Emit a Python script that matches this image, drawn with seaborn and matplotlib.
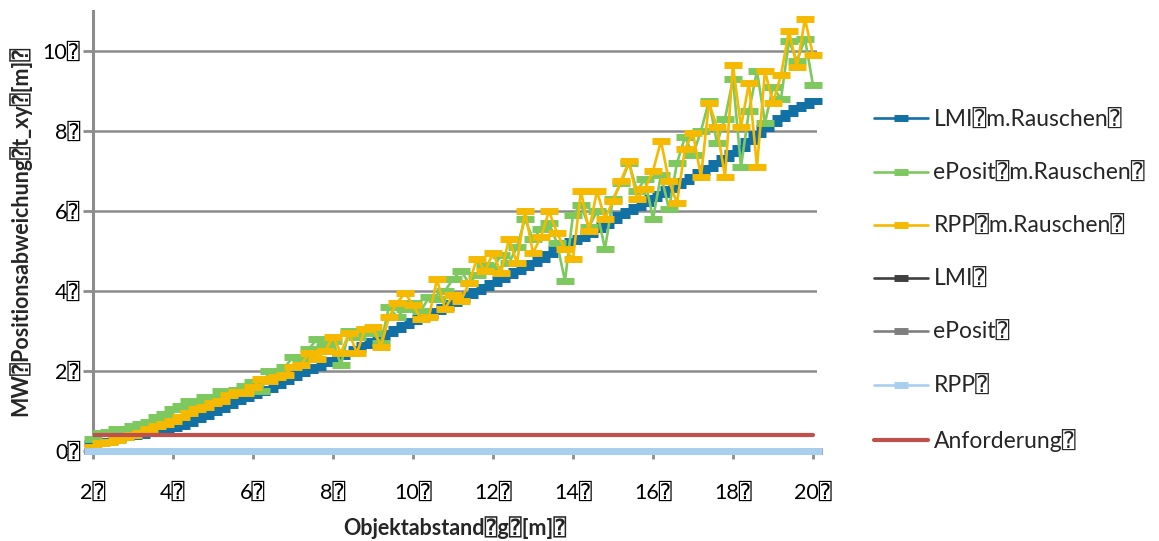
import pandas as pd
import seaborn as sns
import matplotlib.pyplot as plt

# Object distance g [m]
distance = [2.0, 2.2, 2.4, 2.6, 2.8, 3.0, 3.2, 3.4, 3.6, 3.8,
            4.0, 4.2, 4.4, 4.6, 4.8, 5.0, 5.2, 5.4, 5.6, 5.8,
            6.0, 6.2, 6.4, 6.6, 6.8, 7.0, 7.2, 7.4, 7.6, 7.8,
            8.0, 8.2, 8.4, 8.6, 8.8, 9.0, 9.2, 9.4, 9.6, 9.8,
            10.0, 10.2, 10.4, 10.6, 10.8, 11.0, 11.2, 11.4, 11.6, 11.8,
            12.0, 12.2, 12.4, 12.6, 12.8, 13.0, 13.2, 13.4, 13.6, 13.8,
            14.0, 14.2, 14.4, 14.6, 14.8, 15.0, 15.2, 15.4, 15.6, 15.8,
            16.0, 16.2, 16.4, 16.6, 16.8, 17.0, 17.2, 17.4, 17.6, 17.8,
            18.0, 18.2, 18.4, 18.6, 18.8, 19.0, 19.2, 19.4, 19.6, 19.8,
            20.0]

# mean position deviation t_xy [m], with noise
lmi_noise = [0.20, 0.22, 0.26, 0.30, 0.34, 0.38, 0.41, 0.45, 0.49, 0.53,
             0.58, 0.63, 0.70, 0.80, 0.88, 0.97, 1.06, 1.15, 1.25, 1.33,
             1.40, 1.48, 1.56, 1.65, 1.75, 1.85, 1.95, 2.03, 2.10, 2.20,
             2.28, 2.37, 2.46, 2.55, 2.65, 2.75, 2.85, 2.95, 3.05, 3.15,
             3.24, 3.32, 3.41, 3.50, 3.60, 3.70, 3.80, 3.90, 4.00, 4.10,
             4.20, 4.30, 4.40, 4.50, 4.60, 4.70, 4.80, 4.92, 5.05, 5.18,
             5.25, 5.33, 5.42, 5.55, 5.66, 5.78, 5.90, 6.00, 6.10, 6.20,
             6.32, 6.43, 6.55, 6.65, 6.75, 6.86, 6.97, 7.08, 7.20, 7.32,
             7.44, 7.58, 7.75, 7.92, 8.08, 8.20, 8.32, 8.45, 8.57, 8.66,
             8.75]
eposit_noise = [0.30, 0.45, 0.48, 0.54, 0.56, 0.62, 0.68, 0.72, 0.85, 0.92,
                1.05, 1.12, 1.25, 1.22, 1.35, 1.33, 1.50, 1.48, 1.52, 1.62,
                1.72, 1.50, 2.00, 1.98, 2.10, 2.35, 2.30, 2.55, 2.80, 2.62,
                2.75, 2.15, 3.00, 2.85, 3.05, 2.95, 2.70, 3.60, 3.35, 3.55,
                3.70, 3.50, 3.85, 3.80, 4.00, 4.30, 4.50, 4.20, 4.40, 4.65,
                4.55, 4.90, 4.70, 5.10, 5.80, 5.30, 5.55, 5.70, 5.20, 4.25,
                5.90, 6.15, 5.60, 6.00, 5.05, 6.30, 6.70, 7.20, 6.50, 6.80,
                5.80, 6.90, 6.05, 7.20, 7.85, 7.40, 8.00, 8.75, 7.70, 8.30,
                9.30, 7.10, 8.50, 9.50, 8.20, 9.10, 8.80, 10.25, 9.75, 10.30,
                9.15]
rpp_noise = [0.10, 0.20, 0.22, 0.28, 0.35, 0.40, 0.45, 0.55, 0.62, 0.68,
             0.75, 0.85, 0.95, 1.05, 1.10, 1.20, 1.25, 1.40, 1.48, 1.45,
             1.60, 1.80, 1.75, 1.85, 1.90, 2.10, 2.15, 2.45, 2.30, 2.50,
             2.85, 2.45, 2.95, 2.45, 3.05, 3.10, 2.60, 3.35, 3.70, 3.95,
             3.65, 3.30, 3.35, 4.30, 3.55, 3.90, 3.75, 4.20, 4.80, 4.50,
             4.95, 4.45, 5.30, 4.70, 6.00, 4.95, 5.35, 6.00, 5.45, 5.05,
             4.80, 6.50, 5.50, 6.50, 5.80, 6.25, 6.75, 7.25, 6.30, 6.55,
             7.00, 7.75, 6.75, 6.20, 7.55, 7.95, 6.85, 8.70, 8.10, 6.85,
             9.65, 8.10, 9.20, 7.10, 9.50, 8.70, 9.40, 10.50, 9.60, 10.80,
             9.90]
# without noise all methods sit at zero
lmi = [0.0] * len(distance)
eposit = [0.0] * len(distance)
rpp = [0.0] * len(distance)
requirement = [0.4] * len(distance)

Q = "\u2370"
labels = ["LMI" + Q + "m.Rauschen" + Q, "ePosit" + Q + "m.Rauschen" + Q,
          "RPP" + Q + "m.Rauschen" + Q, "LMI" + Q, "ePosit" + Q, "RPP" + Q,
          "Anforderung" + Q]
colors = ["#1170A4", "#7DC85F", "#F5B900", "#404040", "#7F7F7F", "#A9CFEE", "#C0504D"]
values = [lmi_noise, eposit_noise, rpp_noise, lmi, eposit, rpp, requirement]

sns.set_theme(style="white")
plt.rcParams['font.family'] = ['Lato', 'DejaVu Sans', 'DejaVu Sans Mono']

fig, ax = plt.subplots(figsize=(11.59, 5.41), dpi=100)
fig.subplots_adjust(left=0.0802, right=0.7049, bottom=0.1664, top=0.9797)

for name, y, c in zip(labels, values, colors):
    if name.startswith("Anforderung"):
        sns.lineplot(x=distance, y=y, ax=ax, color=c, linewidth=3, label=name,
                     sort=False, estimator=None, zorder=4)
    else:
        sns.lineplot(x=distance, y=y, ax=ax, color=c, linewidth=1.9, label=name,
                     marker='_', markersize=13.5, markeredgewidth=5,
                     markeredgecolor=c, sort=False, estimator=None,
                     clip_on=False, zorder=3)

ax.get_legend().remove()

ax.set_xlim(2.0, 20.1)
ax.set_ylim(0, 11)
ax.set_xticks([2, 4, 6, 8, 10, 12, 14, 16, 18, 20])
ax.set_xticklabels([f"{v}{Q}" for v in [2, 4, 6, 8, 10, 12, 14, 16, 18, 20]])
ax.set_yticks([0, 2, 4, 6, 8, 10])
ax.set_yticklabels([f"{v}{Q}" for v in [0, 2, 4, 6, 8, 10]])
ax.yaxis.grid(True, color='#8C8C8C', linewidth=1.8)
ax.set_axisbelow(True)

for side in ['top', 'right', 'bottom']:
    ax.spines[side].set_visible(False)
ax.spines['left'].set_color('#8C8C8C')
ax.spines['left'].set_linewidth(2.2)

ax.tick_params(axis='x', direction='out', length=6, width=2, color='#8C8C8C',
               pad=17, labelsize=15.5, labelcolor='black', bottom=True)
ax.tick_params(axis='y', direction='out', length=7, width=2, color='#8C8C8C',
               pad=2, labelsize=15.5, labelcolor='black', left=True)

ax.set_xlabel("Objektabstand" + Q + "g" + Q + "[m]" + Q, fontsize=15.5,
              fontweight='bold', labelpad=9)
ax.set_ylabel("MW" + Q + "Positionsabweichung" + Q + "t_xy" + Q + "[m]" + Q,
              fontsize=15.5, fontweight='bold', labelpad=8)

handles = ax.get_lines()[:len(labels)]
fig.legend(handles, labels, loc='upper left', bbox_to_anchor=(0.754, 0.798),
           frameon=False, fontsize=16.5, handlelength=2.35, handletextpad=0.25,
           labelspacing=1.40, borderpad=0, borderaxespad=0, markerscale=0.7)

plt.savefig('out.png', dpi=100)
plt.close()
